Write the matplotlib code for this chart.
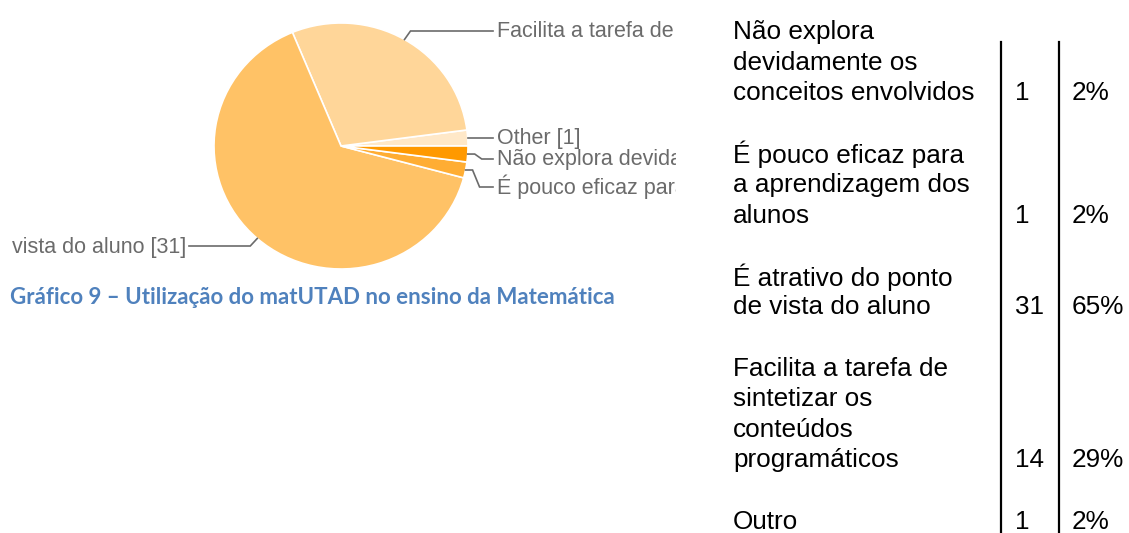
import numpy as np
import matplotlib
matplotlib.use("Agg")
import matplotlib.pyplot as plt

# pie data (counterclockwise from 3 o'clock)
pie_labels = ["Other [1]",
              "Facilita a tarefa de sintetizar os conteúdos programáticos [14]",
              "É atrativo do ponto de vista do aluno [31]",
              "É pouco eficaz para a aprendizagem dos alunos [1]",
              "Não explora devidamente os conceitos envolvidos [1]"]
pie_values = [1, 14, 31, 1, 1]
pie_colors = ["#FFE8C8", "#FFD699", "#FFC266", "#FFAD33", "#FF9900"]

# summary table
table_rows = [
    ["Não explora", "devidamente os", "conceitos envolvidos"],
    ["É pouco eficaz para", "a aprendizagem dos", "alunos"],
    ["É atrativo do ponto", "de vista do aluno"],
    ["Facilita a tarefa de", "sintetizar os", "conteúdos", "programáticos"],
    ["Outro"],
]
table_counts = [1, 1, 31, 14, 1]
table_pcts = ["2%", "2%", "65%", "29%", "2%"]

caption = "Gráfico 9 – Utilização do matUTAD no ensino da Matemática"

W, H = 1129, 533
fig = plt.figure(figsize=(W / 100, H / 100), dpi=100)
fig.patch.set_facecolor("white")

# ---------------------------------------------------------------- pie
CLIP_L, CLIP_R = 9, 676
cx, cy, rx, ry = 341, 146, 127, 123
ax = fig.add_axes([CLIP_L / W, 0, (CLIP_R - CLIP_L) / W, 1])
ax.pie(pie_values, colors=pie_colors, startangle=0, counterclock=True,
       wedgeprops=dict(edgecolor="white", linewidth=1.2))
ax.set_xlim((CLIP_L - cx) / rx, (CLIP_R - cx) / rx)
ax.set_ylim((cy - H) / ry, cy / ry)
ax.set_aspect("auto")
ax.axis("off")


def px(x, y):
    # pixel (top-left origin) -> data
    return (x - cx) / rx, (cy - y) / ry


label_y = [138, 31, 246, 187, 159]
gray = "#6b6b6b"
angles = np.cumsum([0] + pie_values) / sum(pie_values) * 360
for i, lab in enumerate(pie_labels):
    mid = np.deg2rad((angles[i] + angles[i + 1]) / 2)
    ax_x, ax_y = cx + rx * np.cos(mid), cy - ry * np.sin(mid)
    ly = label_y[i]
    if np.cos(mid) > 0:
        if i == 0:
            pts = [(ax_x, ly), (493, ly)]
        elif i == 1:
            pts = [(ax_x, ax_y), (ax_x + 6, ly), (493, ly)]
        else:
            pts = [(ax_x, ax_y), (ax_x + 7, ax_y), (ax_x + 14, ly), (493, ly)]
        tx, ha = 497, "left"
    else:
        pts = [(ax_x, ax_y), (ax_x - 7, ly), (189, ly)]
        tx, ha = 186, "right"
    xs, ys = zip(*[px(*p) for p in pts])
    ax.plot(xs, ys, color=gray, lw=1.2, solid_joinstyle="miter")
    ax.text(*px(tx, ly), lab, ha=ha, va="center", color=gray,
            fontsize=15.5, family="Liberation Sans", clip_on=True)

fig.text(10 / W, 1 - 298 / H, caption, ha="left", va="center",
         color="#4F81BD", fontsize=16, fontweight="bold", family="Lato")

# ---------------------------------------------------------------- table
line_h = 30.6
y0 = 32
idx = 0
fs = 18.8
for row, n, p in zip(table_rows, table_counts, table_pcts):
    for k, line in enumerate(row):
        y = y0 + (idx + k) * line_h
        fig.text(733 / W, 1 - y / H, line, ha="left", va="center",
                 fontsize=fs, family="Liberation Sans", color="black")
    y = y0 + (idx + len(row) - 1) * line_h
    fig.text(1015 / W, 1 - y / H, str(n), ha="left", va="center",
             fontsize=fs, family="Liberation Sans", color="black")
    fig.text(1072 / W, 1 - y / H, p, ha="left", va="center",
             fontsize=fs, family="Liberation Sans", color="black")
    idx += len(row) + 1

for xv in [1001, 1059]:
    fig.add_artist(plt.Line2D([xv / W, xv / W], [0, 1 - 42 / H],
                              color="black", lw=1.6, transform=fig.transFigure))

fig.savefig("out.png", dpi=100, facecolor="white")
